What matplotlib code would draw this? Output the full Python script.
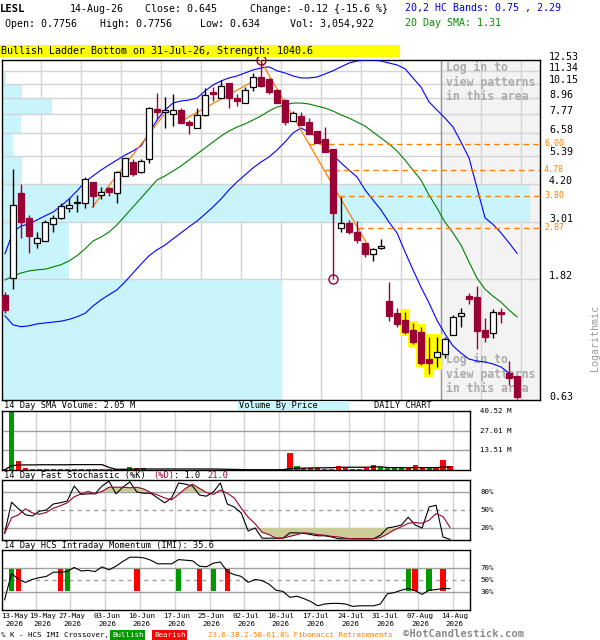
import numpy as np
import matplotlib
matplotlib.use('Agg')
import matplotlib.pyplot as plt
from matplotlib.patches import Rectangle
from matplotlib.transforms import blended_transform_factory, ScaledTranslation

plt.rcParams['font.family'] = 'DejaVu Sans Mono'

# ---------------- data ----------------
date_labels = ['13-May', '19-May', '27-May', '03-Jun', '10-Jun', '17-Jun', '25-Jun',
               '02-Jul', '10-Jul', '17-Jul', '24-Jul', '31-Jul', '07-Aug', '14-Aug']
label_days = [0, 4, 9, 14, 19, 24, 29, 34, 39, 44, 49, 54, 59, 64]

opens = np.array([
    1.58, 1.84, 3.89, 3.12, 2.50, 2.55, 2.97, 3.12, 3.40, 3.57,
    3.55, 4.28, 3.82, 4.06, 3.89, 4.52, 5.10, 4.68, 5.25, 8.15,
    7.95, 7.80, 8.07, 7.25, 6.90, 7.70, 9.45, 8.95, 10.2, 8.95,
    8.60, 9.90, 10.8, 10.6, 9.65, 8.80, 7.35, 7.65, 7.25, 6.70,
    6.25, 5.75, 2.85, 3.00, 2.75, 2.50, 2.28, 2.40, 1.50, 1.35,
    1.27, 1.17, 1.15, 0.90, 0.92, 0.94, 1.12, 1.32, 1.57, 1.56,
    1.17, 1.14, 1.37, 0.80, 0.7756])
highs = np.array([
    1.63, 4.80, 4.20, 3.20, 2.76, 3.07, 3.20, 3.55, 3.72, 3.82,
    4.48, 4.28, 4.10, 4.10, 4.70, 5.30, 5.25, 5.25, 8.30, 9.40,
    9.05, 9.30, 8.20, 7.39, 8.20, 9.80, 9.90, 10.5, 10.2, 9.30,
    9.90, 11.2, 12.53, 10.7, 9.70, 8.90, 8.00, 7.90, 7.50, 6.70,
    6.95, 5.75, 3.76, 3.07, 3.05, 2.50, 2.40, 2.60, 1.78, 1.41,
    1.37, 1.24, 1.20, 1.10, 1.10, 1.10, 1.33, 1.41, 1.62, 1.71,
    1.30, 1.40, 1.42, 0.89, 0.7756])
lows = np.array([
    1.35, 1.67, 2.62, 2.30, 2.40, 2.55, 2.76, 3.10, 3.30, 3.30,
    3.40, 3.43, 3.69, 3.78, 3.55, 4.52, 4.52, 4.63, 5.06, 7.39,
    6.90, 7.00, 7.20, 6.55, 6.90, 7.65, 8.75, 8.95, 8.20, 8.38,
    8.60, 9.50, 9.90, 9.30, 8.60, 7.05, 7.35, 7.05, 6.55, 6.05,
    5.60, 1.82, 2.76, 2.71, 2.50, 2.22, 2.14, 2.38, 1.26, 1.20,
    1.13, 1.03, 0.86, 0.79, 0.84, 0.91, 1.12, 1.20, 1.46, 0.99,
    1.05, 1.09, 1.24, 0.72, 0.634])
closes = np.array([
    1.39, 3.50, 3.02, 2.67, 2.62, 3.02, 3.12, 3.47, 3.50, 3.59,
    4.40, 3.78, 3.92, 3.92, 4.68, 5.28, 4.60, 5.15, 8.20, 7.95,
    8.05, 8.10, 7.20, 7.05, 7.70, 9.20, 9.30, 10.0, 8.95, 8.70,
    9.60, 10.8, 10.0, 9.45, 8.60, 7.25, 7.85, 7.05, 6.55, 6.05,
    5.60, 3.27, 3.00, 2.75, 2.57, 2.28, 2.38, 2.45, 1.32, 1.23,
    1.15, 1.05, 0.87, 0.87, 0.96, 1.08, 1.31, 1.36, 1.53, 1.16,
    1.10, 1.37, 1.34, 0.765, 0.645])

# HC bands and 20 day SMA
band_upper = [
    2.28, 2.76, 2.91, 2.96, 3.07, 3.18, 3.29, 3.47, 3.69, 3.96,
    4.29, 4.52, 4.76, 4.98, 5.20, 5.43, 5.63, 5.88, 6.60, 7.39,
    8.07, 8.58, 8.74, 8.81, 8.97, 9.54, 10.06, 10.42, 10.70, 10.89,
    11.18, 11.48, 11.68, 11.80, 11.40, 11.18, 10.89, 10.70, 10.70, 10.79,
    11.08, 11.40, 11.80, 12.20, 12.42, 12.53, 12.53, 12.42, 12.20, 12.00,
    11.60, 10.70, 9.87, 8.67, 8.07, 7.52, 6.95, 6.09, 5.30, 4.07,
    3.13, 2.95, 2.74, 2.51, 2.29]
sma20 = [
    1.81, 1.875, 1.925, 1.96, 1.98, 1.99, 2.03, 2.07, 2.14, 2.24,
    2.38, 2.55, 2.64, 2.76, 2.94, 3.18, 3.44, 3.72, 4.03, 4.36,
    4.52, 4.72, 4.93, 5.20, 5.48, 5.78, 6.09, 6.42, 6.71, 6.95,
    7.14, 7.39, 7.66, 8.00, 8.29, 8.44, 8.58, 8.58, 8.51, 8.36,
    8.21, 8.00, 7.73, 7.52, 7.26, 7.01, 6.65, 6.31, 5.99, 5.63,
    5.20, 4.76, 4.36, 3.82, 3.41, 3.01, 2.74, 2.46, 2.12, 1.84,
    1.67, 1.57, 1.49, 1.39, 1.31]
band_lower = [
    1.32, 1.22, 1.20, 1.21, 1.23, 1.24, 1.25, 1.26, 1.28, 1.31,
    1.35, 1.44, 1.52, 1.59, 1.66, 1.78, 1.925, 2.08, 2.24, 2.36,
    2.46, 2.60, 2.74, 2.89, 3.04, 3.23, 3.44, 3.69, 4.00, 4.29,
    4.56, 4.85, 5.11, 5.34, 5.68, 6.09, 6.60, 6.89, 6.65, 6.37,
    5.88, 5.43, 5.07, 4.76, 4.48, 4.00, 3.66, 3.35, 3.01, 2.74,
    2.32, 1.98, 1.70, 1.48, 1.27, 1.126, 1.013, 0.952, 0.903, 0.888,
    0.880, 0.865, 0.842, 0.799, 0.75]

# volume (millions) and its 14 day SMA
volumes = np.array([
    0.9, 40.52, 6.1, 1.35, 0.5, 0.4, 0.5, 0.4, 0.5, 0.4,
    0.5, 0.4, 0.5, 0.4, 0.5, 0.4, 0.5, 0.4, 2.0, 1.35,
    1.35, 0.2, 0.2, 0.2, 0.2, 0.2, 0.2, 0.2, 0.2, 0.2,
    0.2, 0.2, 0.2, 0.2, 0.2, 0.2, 0.2, 0.2, 0.2, 0.2,
    0.2, 11.9, 2.7, 1.6, 1.6, 1.6, 0.7, 0.7, 2.7, 1.6,
    0.7, 0.7, 1.2, 3.2, 2.2, 1.1, 1.8, 1.1, 1.1, 3.4,
    1.3, 1.6, 1.6, 6.6, 3.05])
vol_sma = [
    0.1, 3.0, 3.4, 3.5, 3.5, 3.6, 3.6, 3.6, 3.6, 3.6,
    3.7, 3.7, 3.7, 3.7, 3.7, 1.8, 0.5, 0.5, 0.6, 0.7,
    0.8, 0.7, 0.7, 0.7, 0.7, 0.7, 0.7, 0.7, 0.7, 0.7,
    0.7, 0.6, 0.5, 0.4, 0.3, 0.2, 0.2, 0.2, 0.2, 0.2,
    0.2, 1.0, 1.2, 1.3, 1.4, 1.5, 1.5, 1.6, 1.8, 1.9,
    1.9, 1.9, 1.9, 2.1, 2.2, 1.7, 1.6, 1.6, 1.5, 1.7,
    1.6, 1.6, 1.6, 2.0, 2.05]
vol_ticks = [13.51, 27.01, 40.52]

# stochastic %K / %D
stoch_k = [
    11, 63, 52, 42, 40, 48, 50, 60, 62, 65,
    90, 76, 77, 77, 90, 98, 77, 88, 97, 80,
    78, 78, 70, 62, 70, 95, 93, 90, 75, 73,
    80, 95, 60, 55, 45, 15, 20, 3, 3, 3,
    3, 12, 12, 11, 9, 7, 7, 5, 2, 2,
    2, 2, 2, 2, 8, 20, 22, 25, 38, 25,
    20, 55, 58, 5, 1]
stoch_d = [
    11, 37, 42, 52, 45, 43, 46, 53, 57, 62,
    72, 77, 81, 77, 81, 88, 88, 88, 87, 88,
    85, 79, 75, 70, 67, 76, 86, 93, 86, 79,
    76, 83, 78, 70, 53, 38, 27, 13, 9, 3,
    3, 6, 9, 12, 11, 9, 8, 6, 5, 3,
    2, 2, 2, 2, 4, 10, 17, 22, 28, 29,
    28, 33, 44, 39, 21]

# HCS intraday momentum
imi = [
    17, 61, 51, 46, 51, 54, 56, 63, 63, 64,
    71, 65, 66, 64, 72, 67, 73, 81, 88, 88,
    87, 83, 77, 77, 77, 84, 83, 82, 73, 72,
    78, 80, 64, 59, 56, 46, 51, 49, 43, 33,
    31, 21, 23, 19, 14, 7, 10, 11, 11, 10,
    6, 7, 7, 7, 10, 27, 29, 33, 36, 32,
    26, 33, 34, 36, 35.6]
bull_cross = [1, 9, 25, 30, 58, 61]
bear_cross = [2, 8, 19, 28, 32, 59, 63]

# price axis, volume by price, fibonacci, patterns
price_ticks = [0.63, 1.82, 3.01, 4.20, 5.39, 6.58, 7.77, 8.96, 10.15, 11.34, 12.53]
vbp_volume = [24.4, 5.84, 46.0, 1.74, 0.96, 1.65, 4.36, 1.74, 0.35, 0.13]
fib_levels = [6.00, 4.78, 3.80, 2.87]
trend_lines = [(10.9, 3.43, 19.8, 7.70), (21.9, 7.28, 31.9, 10.76), (31.9, 12.53, 45.9, 2.30)]
pivot_days = [32, 41]
pivot_prices = [12.53, 1.82]
pattern_days = [50, 51, 52, 53, 54]
pattern_date = 54

# ---------------- figure ----------------
W, H = 600, 640
fig = plt.figure(figsize=(6, 6.4), dpi=100)

RED = '#990033'
ORANGE = '#ff8000'
VBP = '#c8f4fc'
GRID = '#d4d4d4'
XL = (-0.375, 66.875)
n = len(closes)
idx = np.arange(n)
up = closes >= opens


def frame(x0, y0, x1, y1):
    return [x0 / W, 1 - y1 / H, (x1 - x0) / W, (y1 - y0) / H]


def put(x, y, s, size=7.2, **kw):
    kw.setdefault('va', 'center')
    fig.text(x / W, 1 - y / H, s, fontsize=size, **kw)


def clean(a):
    a.set_xlim(*XL)
    a.set_xticks([])
    a.set_yticks([])
    a.minorticks_off()
    for s in a.spines.values():
        s.set_linewidth(1)
        s.set_color('black')


# header
put(0, 9, 'LESL', size=7.6, weight='bold')
put(70, 9, '14-Aug-26')
put(145, 9, 'Close: 0.645')
put(250, 9, 'Change: -0.12 {-15.6 %}')
put(405, 7.5, '20,2 HC Bands: 0.75 , 2.29', color='#0000dd')
put(5, 24, 'Open: 0.7756')
put(100, 24, 'High: 0.7756')
put(200, 24, 'Low: 0.634')
put(290, 24, 'Vol: 3,054,922')
put(405, 22.5, '20 Day SMA: 1.31', color='#009000')
fig.add_artist(Rectangle((0, 1 - 56.5 / H), 400 / W, 11 / H, transform=fig.transFigure,
                         facecolor='#ffff00', edgecolor='none'))
put(1, 51, 'Bullish Ladder Bottom on 31-Jul-26, Strength: 1040.6')

# ---------------- main price panel ----------------
ax = fig.add_axes(frame(2, 60, 540, 400))
ax.set_yscale('log')
ax.set_ylim(price_ticks[0], price_ticks[-1])
clean(ax)
tr = blended_transform_factory(ax.transAxes, ax.transData)

grey_from = pattern_date + 0.45
ax.axvspan(grey_from, XL[1], color='#f3f3f3', zorder=0)
for d in label_days[1:]:
    ax.axvline(d + 0.45, color=GRID, lw=1, zorder=1)
vmax = max(vbp_volume)
for lo, hi, v in zip(price_ticks[:-1], price_ticks[1:], vbp_volume):
    ax.add_patch(Rectangle((0, lo), v / vmax * 0.981, hi - lo, transform=tr,
                           facecolor=VBP, edgecolor='none', zorder=1.5))
for p in price_ticks[1:-1]:
    ax.axhline(p, color=GRID, lw=1, zorder=1.7)
ax.axvline(grey_from, color='#9a9a9a', lw=1, zorder=1.8)

for t, y in [('Log in to', 67), ('view patterns', 82), ('in this area', 97),
             ('Log in to', 359), ('view patterns', 374), ('in this area', 389)]:
    ax.text(446 / W, 1 - y / H, t, transform=fig.transFigure, fontsize=8.3,
            weight='bold', color='#ababab', va='center', zorder=2)

for d in pattern_days:
    ax.add_patch(Rectangle((d - 0.68, lows[d] / 1.022), 1.36,
                           highs[d] * 1.022 - lows[d] / 1.022,
                           facecolor='#ffff00', edgecolor='none', zorder=2.5))

ax.plot(idx, band_upper, color='#0000ff', lw=0.8, zorder=3)
ax.plot(idx, band_lower, color='#0000ff', lw=0.8, zorder=3)
ax.plot(idx, sma20, color='#008000', lw=0.8, zorder=3)

for x0, p0, x1, p1 in trend_lines:
    ax.plot([x0, x1], [p0, p1], color=ORANGE, lw=0.9, zorder=3.5)

x0, p0, x1, p1 = trend_lines[-1]
for lvl in fib_levels:
    t = (np.log(p0) - np.log(lvl)) / (np.log(p0) - np.log(p1))
    xs = x0 + t * (x1 - x0)
    ax.plot([xs, XL[1]], [lvl, lvl], color=ORANGE, lw=1, ls=(0, (4, 3)), zorder=3.5)
    ax.text(1.0075, lvl, f'{lvl:.2f}', transform=tr, fontsize=6, color=ORANGE,
            va='center', ha='left', clip_on=False)

for i in range(n):
    ax.vlines(i, lows[i], highs[i], color='black' if up[i] else RED, lw=1, zorder=4)
ax.bar(idx[up], (closes - opens)[up], bottom=opens[up], width=0.7,
       facecolor='white', edgecolor='black', lw=0.9, zorder=5)
ax.bar(idx[~up], (opens - closes)[~up], bottom=closes[~up], width=0.7,
       facecolor=RED, edgecolor=RED, lw=0.9, zorder=5)
ax.plot(pivot_days, pivot_prices, 'o', ms=6.5, mfc='none', mec=RED, mew=1,
        clip_on=False, zorder=6)

off = ScaledTranslation(0, 0.035, fig.dpi_scale_trans)
for p in price_ticks:
    ax.text(1.0167, p, f'{p:.2f}', transform=tr + off, fontsize=7.2,
            va='center', ha='left', clip_on=False)
put(595, 338, 'Logarithmic', color='#9a9a9a', rotation=90, ha='center')

# ---------------- volume panel ----------------
fig.add_artist(Rectangle((238 / W, 1 - 410 / H), 111 / W, 9.5 / H, transform=fig.transFigure,
                         facecolor=VBP, edgecolor='none'))
put(4, 405.5, '14 Day SMA Volume: 2.05 M', size=6.2)
put(239, 405.5, 'Volume By Price', size=6.2)
put(374, 405.5, 'DAILY CHART', size=6.2)

axv = fig.add_axes(frame(2, 411, 470, 470))
axv.set_ylim(0, vol_ticks[-1])
clean(axv)
for d in label_days[1:]:
    axv.axvline(d + 0.45, color=GRID, lw=1, zorder=0)
for v in vol_ticks[:-1]:
    axv.axhline(v, color='#a0a0a0', lw=1, zorder=0.5)
axv.bar(idx, volumes, width=0.75, color=np.where(up, '#009900', '#ff0000'), zorder=2)
axv.plot(idx, vol_sma, color='black', lw=0.9, zorder=3)
trv = blended_transform_factory(axv.transAxes, axv.transData)
for v in vol_ticks:
    axv.text(1.0214, v, f'{v:.2f} M', transform=trv, fontsize=5.4, va='center',
             ha='left', clip_on=False)

# ---------------- stochastic panel ----------------
put(4, 475.5, '14 Day Fast Stochastic (%K)', size=6.2)
put(153, 475.5, '(%D)', size=6.2, color=RED)
put(174, 475.5, ': 1.0', size=6.2)
put(207, 475.5, '21.0', size=6.2, color=RED)

axs = fig.add_axes(frame(2, 480, 470, 540))
axs.set_ylim(0, 100)
clean(axs)
for d in label_days[1:]:
    axs.axvline(d + 0.45, color=GRID, lw=1, zorder=0)
axs.axhline(80, color='#a0a0a0', lw=1, zorder=0.5)
axs.axhline(20, color='#a0a0a0', lw=1, zorder=0.5)
axs.axhline(50, color='#a0a0a0', lw=1, ls=(0, (3, 3)), zorder=0.5)
sd = np.array(stoch_d, dtype=float)
axs.fill_between(idx, sd, 80, where=sd > 80, interpolate=True, color='#cccc99', lw=0, zorder=1)
axs.fill_between(idx, sd, 20, where=sd < 20, interpolate=True, color='#cccc99', lw=0, zorder=1)
axs.plot(idx, stoch_k, color='black', lw=0.8, zorder=3)
axs.plot(idx, stoch_d, color=RED, lw=0.8, zorder=3)
trs = blended_transform_factory(axs.transAxes, axs.transData)
for v in [80, 50, 20]:
    axs.text(1.0214, v, f'{v}%', transform=trs, fontsize=5.4, va='center', clip_on=False)

# ---------------- IMI panel ----------------
put(4, 545.5, '14 Day HCS Intraday Momentum (IMI): 35.6', size=6.2)
axi = fig.add_axes(frame(2, 550, 470, 610))
axi.set_ylim(0, 100)
clean(axi)
for d in label_days[1:]:
    axi.axvline(d + 0.45, color=GRID, lw=1, zorder=0)
axi.axhline(70, color='#a0a0a0', lw=1, zorder=0.5)
axi.axhline(30, color='#a0a0a0', lw=1, zorder=0.5)
axi.axhline(50, color='#a0a0a0', lw=1, ls=(0, (3, 3)), zorder=0.5)
axi.bar(bull_cross, 38, bottom=31, width=0.78, color='#009900', zorder=2)
axi.bar(bear_cross, 38, bottom=31, width=0.78, color='#ff0000', zorder=2)
axi.plot(idx, imi, color='black', lw=0.8, zorder=3)
tri = blended_transform_factory(axi.transAxes, axi.transData)
for v in [70, 50, 30]:
    axi.text(1.0214, v, f'{v}%', transform=tri, fontsize=5.4, va='center', clip_on=False)

# date labels (first two nudged right so they stay inside and don't overlap)
trx = blended_transform_factory(axi.transData, axi.transAxes)
for k, (d, lab) in enumerate(zip(label_days, date_labels)):
    pos = {0: 1.37, 1: 5.4}.get(k, d + 0.7)
    axi.text(pos, -0.1, lab, transform=trx, fontsize=5.4, ha='center', va='center', clip_on=False)
    axi.text(pos, -0.24, '2026', transform=trx, fontsize=5.4, ha='center', va='center',
             clip_on=False)

# footer
put(1, 635, '% K - HCS IMI Crossover,', size=5.4)
put(112, 635, 'Bullish', size=5.4, color='white',
    bbox=dict(facecolor='#009900', edgecolor='none', pad=1.2))
put(154, 635, 'Bearish', size=5.4, color='white',
    bbox=dict(facecolor='#ff0000', edgecolor='none', pad=1.2))
put(208, 635, '23.6-38.2-50-61.8% Fibonacci Retracements', size=5.4, color=ORANGE)
put(403, 634, '\u00a9HotCandlestick.com', size=7.6, color='#8a8a8a', weight='bold')

fig.savefig('out.png', dpi=100)
